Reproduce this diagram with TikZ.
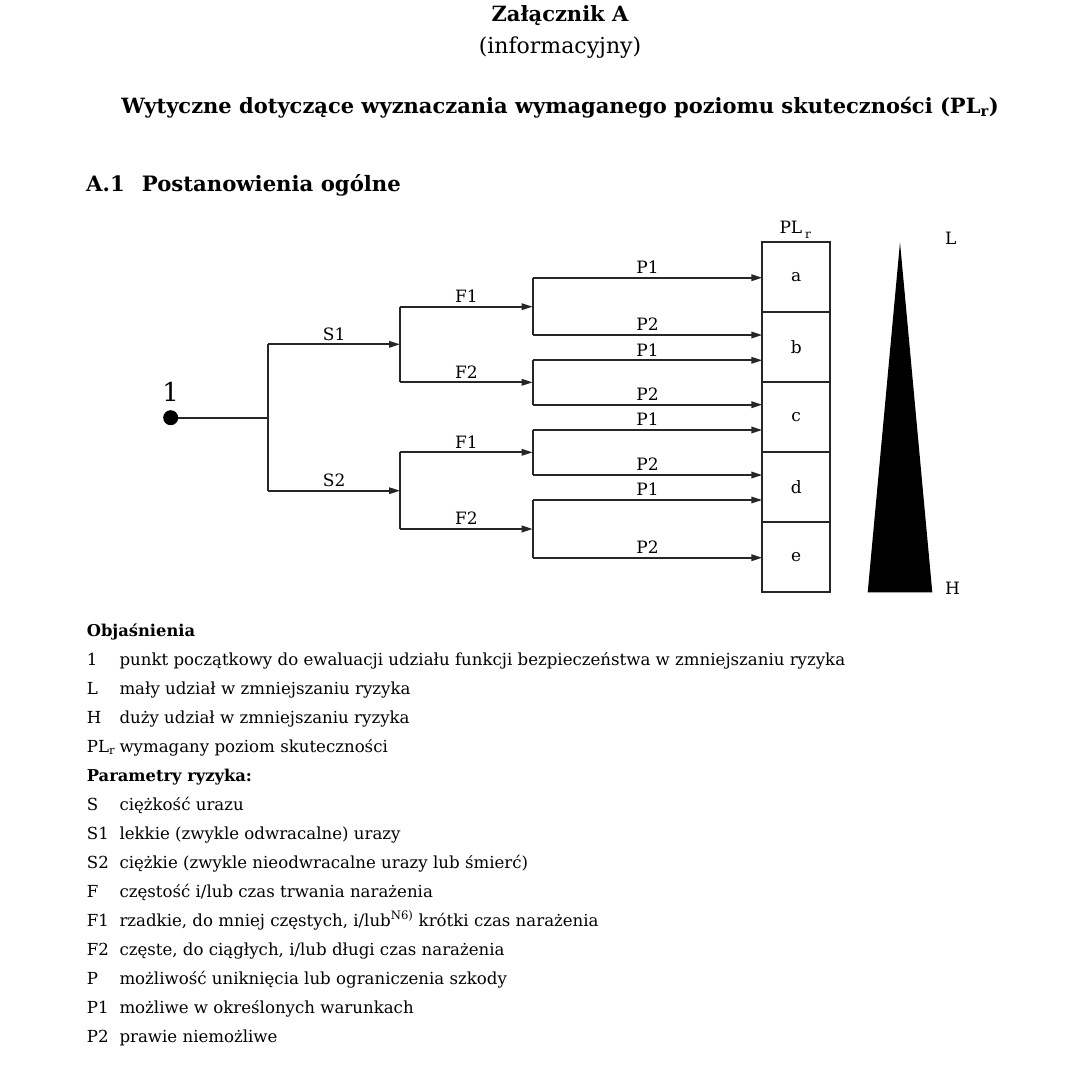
\documentclass[tikz,border=0pt]{standalone}
\usepackage{fontspec}
\setmainfont{DejaVu Serif}
\usetikzlibrary{arrows.meta}
\begin{document}
\begin{tikzpicture}[x=1pt,y=-1pt,
  line/.style={draw=black!85, line width=1.8pt},
  arr/.style={line, -{Triangle[length=11pt,width=6.5pt]}},
  lbl/.style={anchor=base, inner sep=0pt, font=\fontsize{17}{20}\selectfont},
  cell/.style={draw=black!85, line width=1.8pt, minimum width=67.7pt, minimum height=70pt, inner sep=0pt, font=\fontsize{17}{20}\selectfont},
  dot/.style={circle, fill=black, minimum size=15pt, inner sep=0pt},
  key/.style={anchor=base west, inner sep=0pt, font=\fontsize{16.6}{20}\selectfont},
  keyb/.style={key, font=\fontsize{16.3}{20}\selectfont\bfseries},
  head/.style={anchor=base, inner sep=0pt}
]
\useasboundingbox (0,0) rectangle (1077,1066);
% headings
\node[head, font=\fontsize{21}{26}\selectfont\bfseries] (t1) at (560,21.7) {Załącznik A};
\node[head, font=\fontsize{22}{26}\selectfont] (t2) at (560,53) {(informacyjny)};
\node[head, font=\fontsize{21}{26}\selectfont\bfseries] (t3) at (560,113) {Wytyczne dotyczące wyznaczania wymaganego poziomu skuteczności (PL\textsubscript{r})};
\node[anchor=base west, inner sep=0pt, font=\fontsize{21.2}{26}\selectfont\bfseries] (t4) at (86,191.7) {A.1};
\node[anchor=base west, inner sep=0pt, font=\fontsize{21.2}{26}\selectfont\bfseries] (t5) at (141.7,191.7) {Postanowienia ogólne};
% tree
\node[dot] (root) at (170.7,417.7) {};
\node[lbl, font=\fontsize{26}{30}\selectfont] (one) at (170.7,401.7) {1};
\coordinate (j0) at (268.3,417.7);
\coordinate (s1a) at (268.3,344.3);
\coordinate (s2a) at (268.3,490.7);
\coordinate (s1b) at (400,344.3);
\coordinate (s2b) at (400,490.7);
\draw[line] (root) -- (j0);
\draw[line] (s1a) -- (s2a);
\draw[arr] (s1a) -- node[lbl, pos=0.5, yshift=4.3pt] (ls1) {S1} (s1b);
\draw[arr] (s2a) -- node[lbl, pos=0.5, yshift=4.3pt] (ls2) {S2} (s2b);
\foreach \n/\y/\t in {1/306.7/F1, 2/382.3/F2, 3/452.3/F1, 4/529/F2}{
  \coordinate (f\n a) at (400,\y);
  \coordinate (f\n b) at (532.7,\y);
  \draw[arr] (f\n a) -- node[lbl, pos=0.5, yshift=4.3pt] (lf\n) {\t} (f\n b);
}
\draw[line] (f1a) -- (f2a);
\draw[line] (f3a) -- (f4a);
\foreach \n/\y/\t in {1/277.7/P1, 2/335/P2, 3/360.3/P1, 4/404.7/P2, 5/430/P1, 6/475/P2, 7/500/P1, 8/557.7/P2}{
  \coordinate (p\n a) at (532.7,\y);
  \coordinate (p\n b) at (762.3,\y);
  \draw[arr] (p\n a) -- node[lbl, pos=0.5, yshift=4.3pt] (lp\n) {\t} (p\n b);
}
\draw[line] (p1a) -- (p2a);
\draw[line] (p3a) -- (p4a);
\draw[line] (p5a) -- (p6a);
\draw[line] (p7a) -- (p8a);
% PLr column
\node[cell] (ca) at (796.2,277.3) {a};
\node[cell] (cb) at (796.2,347.3) {b};
\node[cell] (cc) at (796.2,417.3) {c};
\node[cell] (cd) at (796.2,487.3) {d};
\node[cell] (ce) at (796.2,557.3) {e};
\node[anchor=base west, inner sep=0pt, font=\fontsize{17}{20}\selectfont] (plr) at (779.3,233.3) {PL\,\raisebox{-0.3em}{\fontsize{12}{14}\selectfont r}};
% triangle
\coordinate (tA) at (900,242.3);
\coordinate (tL) at (867.7,592.3);
\coordinate (tR) at (932.3,592.3);
\fill[black] (tA) -- (tR) -- (tL) -- cycle;
\node[anchor=base west, inner sep=0pt, font=\fontsize{17}{20}\selectfont] (lL) at (945,244.3) {L};
\node[anchor=base west, inner sep=0pt, font=\fontsize{17}{20}\selectfont] (lH) at (945,594) {H};
% legend
\node[keyb] (obj) at (86.7,636) {Objaśnienia};
\node[key] (k1) at (86.7,665) {1};
\node[key] (d1) at (119.3,665) {punkt początkowy do ewaluacji udziału funkcji bezpieczeństwa w zmniejszaniu ryzyka};
\node[key] (k2) at (86.7,694) {L};
\node[key] (d2) at (119.3,694) {mały udział w zmniejszaniu ryzyka};
\node[key] (k3) at (86.7,723) {H};
\node[key] (d3) at (119.3,723) {duży udział w zmniejszaniu ryzyka};
\node[key] (k4) at (86.7,752) {PL\textsubscript{r}};
\node[key] (d4) at (119.3,752) {wymagany poziom skuteczności};
\node[keyb] (par) at (86.7,781) {Parametry ryzyka:};
\node[key] (k5) at (86.7,810) {S};
\node[key] (d5) at (119.3,810) {ciężkość urazu};
\node[key] (k6) at (86.7,839) {S1};
\node[key] (d6) at (119.3,839) {lekkie (zwykle odwracalne) urazy};
\node[key] (k7) at (86.7,868) {S2};
\node[key] (d7) at (119.3,868) {ciężkie (zwykle nieodwracalne urazy lub śmierć)};
\node[key] (k8) at (86.7,897) {F};
\node[key] (d8) at (119.3,897) {częstość i/lub czas trwania narażenia};
\node[key] (k9) at (86.7,926) {F1};
\node[key] (d9) at (119.3,926) {rzadkie, do mniej częstych, i/lub\textsuperscript{N6)} krótki czas narażenia};
\node[key] (k10) at (86.7,955) {F2};
\node[key] (d10) at (119.3,955) {częste, do ciągłych, i/lub długi czas narażenia};
\node[key] (k11) at (86.7,984) {P};
\node[key] (d11) at (119.3,984) {możliwość uniknięcia lub ograniczenia szkody};
\node[key] (k12) at (86.7,1013) {P1};
\node[key] (d12) at (119.3,1013) {możliwe w określonych warunkach};
\node[key] (k13) at (86.7,1042) {P2};
\node[key] (d13) at (119.3,1042) {prawie niemożliwe};
\end{tikzpicture}
\end{document}
